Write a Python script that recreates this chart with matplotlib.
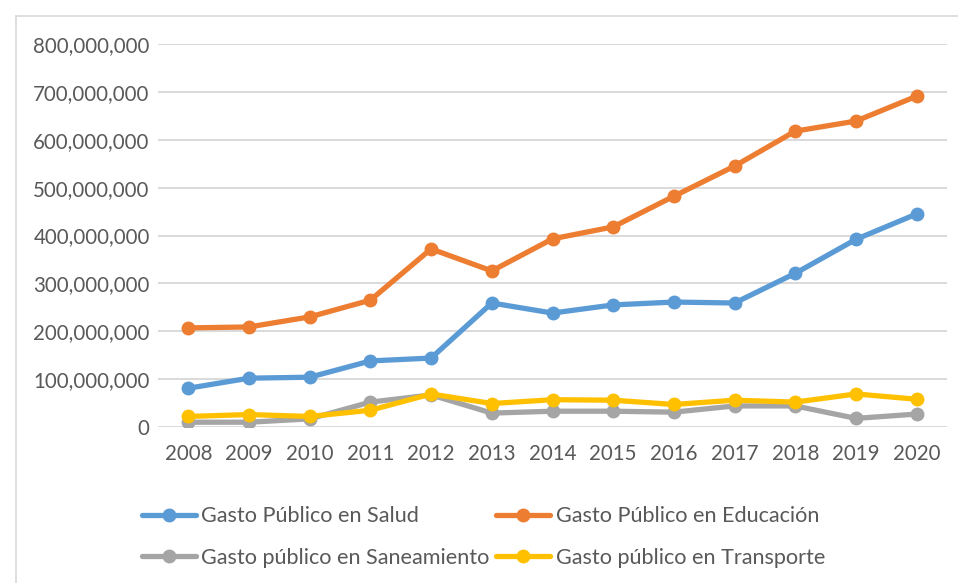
import matplotlib.pyplot as plt
from matplotlib.lines import Line2D
from matplotlib.ticker import FuncFormatter

years = ['2008', '2009', '2010', '2011', '2012', '2013', '2014',
         '2015', '2016', '2017', '2018', '2019', '2020']

salud = [81e6, 102e6, 104e6, 138e6, 144e6, 259e6, 238e6,
         255e6, 261e6, 259e6, 321e6, 392e6, 445e6]
educacion = [207e6, 209e6, 230e6, 265e6, 372e6, 326e6, 393e6,
             418e6, 482e6, 545e6, 618e6, 639e6, 691e6]
saneamiento = [10e6, 10e6, 17e6, 52e6, 67e6, 29e6, 33e6,
               33e6, 31e6, 44e6, 44e6, 18e6, 27e6]
transporte = [22e6, 26e6, 22e6, 35e6, 69e6, 49e6, 57e6,
              56e6, 47e6, 56e6, 52e6, 69e6, 58e6]

labels = ['Gasto Público en Salud', 'Gasto Público en Educación',
          'Gasto público en Saneamiento', 'Gasto público en Transporte']
colors = ['#5b9bd5', '#ed7d31', '#a5a5a5', '#ffc000']

plt.rcParams['font.family'] = ['Lato', 'DejaVu Sans']

fig = plt.figure(figsize=(9.58, 5.83), dpi=100)
ax = fig.add_axes([158 / 958, 1 - 427 / 583, (947 - 158) / 958, (427 - 44) / 583])

x = list(range(len(years)))
series = [salud, educacion, saneamiento, transporte]
lines = []
for vals, lab, col in zip(series, labels, colors):
    ln, = ax.plot(x, vals, color=col, linewidth=3.8, marker='o', markersize=9,
                  label=lab, solid_capstyle='round')
    lines.append(ln)

ax.set_xlim(-0.5, len(years) - 0.5)
ax.set_ylim(0, 800e6)
ax.set_yticks(range(0, 800000001, 100000000))
ax.yaxis.set_major_formatter(FuncFormatter(lambda v, p: f'{int(v):,}'))
ax.set_xticks(x)
ax.set_xticklabels(years)
ax.tick_params(length=0, labelsize=14.8, colors='#595959')
ax.tick_params(axis='y', pad=6)
ax.tick_params(axis='x', pad=12)
ax.grid(axis='y', color='#d9d9d9', linewidth=1.4)
ax.set_axisbelow(True)
for s in ax.spines.values():
    s.set_visible(False)

# matplotlib fills legend column-wise, so reorder to get row-wise like Excel
order = [0, 2, 1, 3]
fig.legend([lines[i] for i in order], [labels[i] for i in order],
           loc='upper left', bbox_to_anchor=(122 / 958, 1 - 487 / 583), ncol=2,
           frameon=False, fontsize=15.6, labelcolor='#595959',
           handlelength=2.5, handletextpad=0.25, columnspacing=0.3,
           labelspacing=0.98)

# chart-area border (only left and top edges visible in the crop)
fig.add_artist(Line2D([16 / 958, 16 / 958], [0, 1 - 16 / 583], transform=fig.transFigure,
                      color='#d9d9d9', linewidth=1.2))
fig.add_artist(Line2D([16 / 958, 1], [1 - 16 / 583, 1 - 16 / 583], transform=fig.transFigure,
                      color='#d9d9d9', linewidth=1.2))

fig.savefig('out.png', dpi=100)
